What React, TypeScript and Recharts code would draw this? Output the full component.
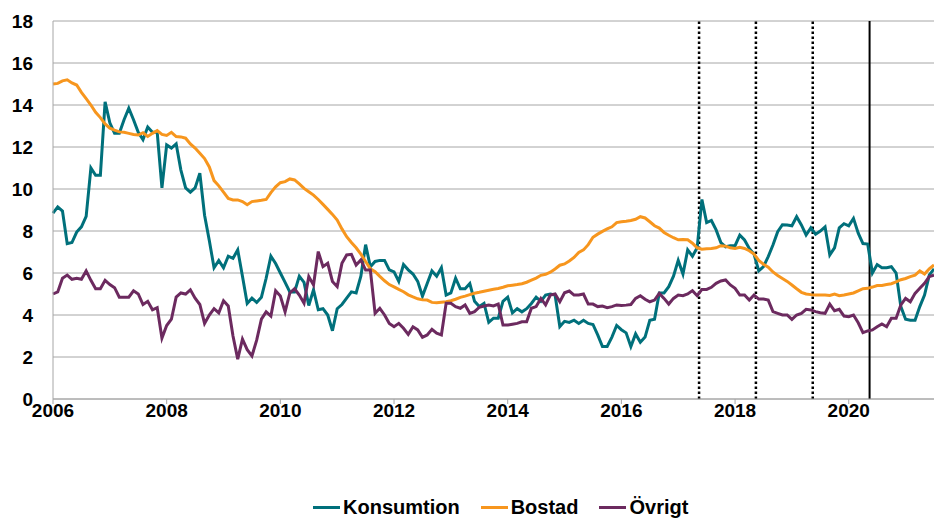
import React from 'react';
import { LineChart, Line, XAxis, YAxis, CartesianGrid, ReferenceLine, Legend } from 'recharts';

// monthly values, Jan 2006 - Jul 2021
const konsumtion = [
  8.85, 9.15, 8.95, 7.4, 7.45, 7.95, 8.2, 8.7, 11.0, 10.65, 10.65, 14.15,
  13.15, 12.65, 12.65, 13.3, 13.85, 13.3, 12.7, 12.35, 12.95, 12.7, 12.7, 10.05,
  12.1, 11.95, 12.15, 10.9, 10.05, 9.85, 10.05, 10.75, 8.75, 7.55, 6.25, 6.6,
  6.25, 6.8, 6.7, 7.1, 5.85, 4.55, 4.8, 4.6, 4.85, 5.75, 6.8, 6.45,
  6.0, 5.55, 5.1, 5.1, 5.85, 5.55, 4.45, 5.2, 4.25, 4.3, 4.0, 3.25,
  4.3, 4.5, 4.8, 5.1, 5.05, 5.85, 7.35, 6.3, 6.55, 6.6, 6.6, 6.15,
  6.05, 5.6, 6.4, 6.15, 5.95, 5.6, 4.9, 5.5, 6.1, 5.85, 6.25, 4.95,
  5.05, 5.75, 5.25, 5.25, 5.5, 4.65, 4.4, 4.55, 3.65, 3.85, 3.85, 4.65,
  4.85, 4.1, 4.3, 4.15, 4.3, 4.55, 4.85, 4.65, 4.95, 5.0, 4.95, 3.45,
  3.7, 3.65, 3.75, 3.6, 3.75, 3.6, 3.55, 3.05, 2.5, 2.5, 2.95, 3.5,
  3.3, 3.15, 2.5, 3.1, 2.7, 2.95, 3.75, 3.8, 5.05, 5.05, 5.35, 5.85,
  6.6, 5.95, 7.1, 6.8, 7.2, 9.5, 8.4, 8.5, 8.05, 7.45, 7.25, 7.3,
  7.3, 7.8, 7.57, 7.17, 6.9, 6.1, 6.3, 6.78, 7.33, 7.97, 8.3, 8.29,
  8.25, 8.68, 8.29, 7.81, 8.15, 7.85, 8.0, 8.2, 6.86, 7.2, 8.15, 8.35,
  8.25, 8.6, 7.9, 7.4, 7.38, 6.0, 6.4, 6.25, 6.25, 6.3, 6.0, 4.4,
  3.8, 3.75, 3.75, 4.4, 4.95, 5.9, 6.2,
];

const bostad = [
  15.0, 15.03, 15.15, 15.2, 15.05, 14.95, 14.6, 14.3, 14.0, 13.65, 13.4, 13.1,
  12.9, 12.8, 12.72, 12.7, 12.65, 12.6, 12.57, 12.68, 12.5, 12.65, 12.78, 12.6,
  12.55, 12.7, 12.5, 12.48, 12.42, 12.15, 11.95, 11.7, 11.45, 11.05, 10.4, 10.15,
  9.85, 9.55, 9.48, 9.48, 9.4, 9.25, 9.4, 9.43, 9.46, 9.5, 9.83, 10.1,
  10.3, 10.35, 10.48, 10.43, 10.24, 10.03, 9.87, 9.71, 9.5, 9.27, 9.03, 8.79,
  8.52, 8.1, 7.73, 7.45, 7.2, 6.9, 6.55, 6.2, 6.06, 5.84, 5.63, 5.45,
  5.34, 5.22, 5.11, 4.96, 4.86, 4.77, 4.72, 4.71, 4.6, 4.58, 4.61, 4.63,
  4.68, 4.75, 4.84, 4.9, 4.97, 5.04, 5.08, 5.13, 5.18, 5.23, 5.26, 5.32,
  5.39, 5.42, 5.45, 5.49, 5.56, 5.66, 5.76, 5.89, 5.94, 6.04, 6.19, 6.37,
  6.43, 6.57, 6.74, 6.98, 7.1, 7.35, 7.7, 7.85, 7.98, 8.1, 8.2, 8.4,
  8.44, 8.46, 8.5, 8.56, 8.68, 8.62, 8.44, 8.25, 8.14, 7.93, 7.8, 7.68,
  7.58, 7.6, 7.58, 7.42, 7.2, 7.13, 7.15, 7.17, 7.2, 7.3, 7.28, 7.2,
  7.17, 7.22, 7.17, 7.06, 6.9, 6.6, 6.42, 6.28, 6.05, 5.88, 5.74, 5.6,
  5.43, 5.25, 5.08, 5.0, 4.97, 4.95, 4.95, 4.95, 4.93, 5.0, 4.92, 4.95,
  5.0, 5.05, 5.15, 5.25, 5.27, 5.33, 5.4, 5.41, 5.45, 5.49, 5.58, 5.68,
  5.74, 5.83, 5.9, 6.1, 5.95, 6.2, 6.38,
];

const ovrigt = [
  5.0, 5.1, 5.75, 5.9, 5.7, 5.75, 5.7, 6.1, 5.65, 5.25, 5.25, 5.65,
  5.45, 5.3, 4.85, 4.85, 4.85, 5.15, 5.0, 4.5, 4.65, 4.25, 4.35, 2.9,
  3.5, 3.8, 4.85, 5.05, 5.0, 5.2, 4.8, 4.5, 3.6, 4.0, 4.3, 4.1,
  4.68, 4.43, 3.0, 1.9, 2.85, 2.35, 2.05, 2.8, 3.8, 4.15, 3.95, 5.15,
  4.9, 4.15, 5.05, 5.25, 4.95, 4.56, 5.83, 5.43, 7.02, 6.3, 6.46, 5.6,
  5.35, 6.46, 6.86, 6.89, 6.38, 6.62, 6.14, 6.14, 4.08, 4.32, 4.0, 3.6,
  3.44, 3.6, 3.37, 3.08, 3.44, 3.29, 2.94, 3.05, 3.32, 3.13, 3.05, 4.56,
  4.56, 4.4, 4.32, 4.48, 4.08, 4.16, 4.37, 4.43, 4.48, 4.43, 4.52, 3.52,
  3.52, 3.56, 3.6, 3.68, 3.68, 4.32, 4.4, 4.79, 4.48, 4.95, 5.0, 4.63,
  5.06, 5.14, 4.95, 4.95, 5.0, 4.52, 4.52, 4.4, 4.43, 4.35, 4.4, 4.48,
  4.45, 4.47, 4.5, 4.79, 4.92, 4.75, 4.63, 4.71, 5.03, 4.79, 4.52, 4.79,
  4.95, 4.92, 5.0, 5.16, 4.92, 5.22, 5.22, 5.32, 5.51, 5.62, 5.67, 5.43,
  5.27, 4.95, 4.95, 4.71, 4.95, 4.76, 4.76, 4.71, 4.16, 4.08, 4.0, 4.0,
  3.79, 4.0, 4.08, 4.27, 4.24, 4.16, 4.11, 4.08, 4.52, 4.2, 4.27, 3.95,
  3.92, 4.0, 3.63, 3.16, 3.24, 3.29, 3.44, 3.57, 3.44, 3.84, 3.84, 4.48,
  4.79, 4.63, 5.03, 5.27, 5.51, 5.83, 5.9,
];

const startYear = 2006;
const yearTicks = [0, 24, 48, 72, 96, 120, 144, 168]; // months since Jan 2006
const yTicks = [0, 2, 4, 6, 8, 10, 12, 14, 16, 18];
const dottedLines = [136.4, 148.4, 160.4];
const solidLine = 172.4;

const series = [
  { key: 'konsumtion', name: 'Konsumtion', color: '#00707b' },
  { key: 'bostad', name: 'Bostad', color: '#f7961e' },
  { key: 'ovrigt', name: 'Övrigt', color: '#6c2a5f' },
];

const data = konsumtion.map((k, i) => ({
  m: i,
  konsumtion: k,
  bostad: bostad[i],
  ovrigt: ovrigt[i],
}));

const font = '"Liberation Sans", Arial, sans-serif';
const tickStyle = { fontFamily: font, fontSize: 19, fontWeight: 'bold', fill: '#000' };

const renderLegend = () => (
  <div style={{ display: 'flex', alignItems: 'center', fontFamily: font, fontSize: 20, fontWeight: 'bold', color: '#000' }}>
    {series.map((s) => (
      <span key={s.key} style={{ display: 'flex', alignItems: 'center', marginRight: 21 }}>
        <span style={{ display: 'inline-block', width: 27, height: 3, background: s.color, marginRight: 3 }} />
        {s.name}
      </span>
    ))}
  </div>
);

const App = () => {
  return (
    <div style={{ position: 'absolute', left: 0, top: 0, width: 934, height: 518, background: '#fff' }}>
      <LineChart width={934} height={518} data={data} margin={{ top: 21, right: 0, bottom: 89, left: 0 }}>
        <CartesianGrid horizontal vertical={false} stroke="#a6a6a6" />
        <XAxis
          dataKey="m"
          type="number"
          domain={[0, 186]}
          ticks={yearTicks}
          tickFormatter={(v) => String(startYear + v / 12)}
          tick={tickStyle}
          stroke="#a6a6a6"
          tickSize={5}
          tickMargin={0}
          height={30}
          interval={0}
        />
        <YAxis
          domain={[0, 18]}
          ticks={yTicks}
          tick={tickStyle}
          stroke="#a6a6a6"
          tickLine={false}
          tickSize={0}
          tickMargin={20}
          width={53}
          interval={0}
        />
        {dottedLines.map((x) => (
          <ReferenceLine key={x} x={x} stroke="#000" strokeWidth={2.5} strokeDasharray="2.5 2.5" />
        ))}
        <ReferenceLine x={solidLine} stroke="#000" strokeWidth={2} />
        {series.map((s) => (
          <Line
            key={s.key}
            type="linear"
            dataKey={s.key}
            name={s.name}
            stroke={s.color}
            strokeWidth={3}
            dot={false}
            isAnimationActive={false}
          />
        ))}
        <Legend
          layout="horizontal"
          verticalAlign="middle"
          align="center"
          content={renderLegend}
          wrapperStyle={{ left: 313, top: 496, width: 'auto', height: 24 }}
        />
      </LineChart>
    </div>
  );
};

export default App;
